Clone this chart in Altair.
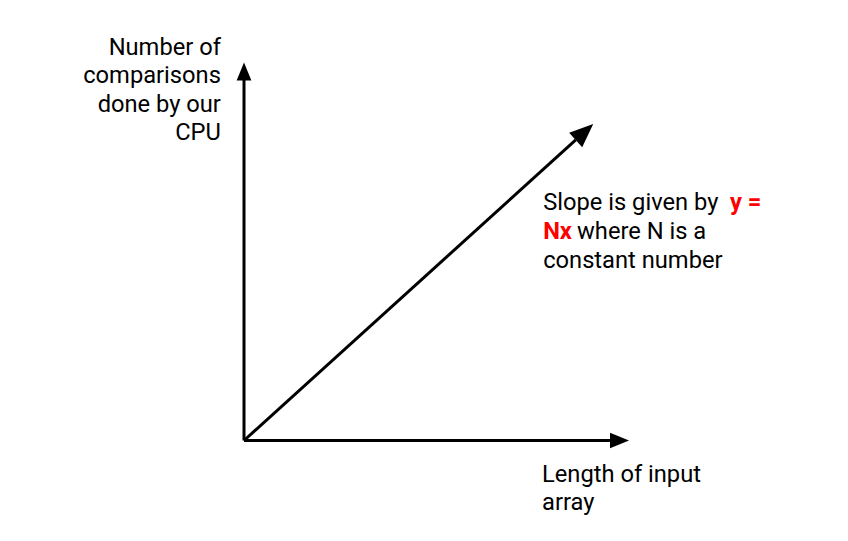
import altair as alt
import pandas as pd

# Diagram in abstract units: origin (0,0), both axes 10 units long
arrow_names = ["y-axis", "x-axis", "slope"]
tip_x = [0.0, 10.0, 9.07]
tip_y = [10.0, 0.0, 8.37]
head_angle = [0, 90, 47.8]
head_size = [324, 361, 560]

label_left_lines = ["Number of", "comparisons", "done by our", "CPU"]
label_left_y = [10.2, 9.45, 8.7, 7.95]
label_left_x = -0.6

label_bottom_lines = ["Length of input", "array"]
label_bottom_y = [-1.11, -1.85]
label_bottom_x = 7.74

note_text = ["Slope is given by", "y =", "Nx", "where N is a", "constant number"]
note_x = [7.77, 12.62, 7.77, 8.65, 7.77]
note_y = [6.09, 6.09, 5.33, 5.33, 4.57]
note_color = ["black", "red", "red", "black", "black"]
note_weight = ["normal", "bold", "bold", "normal", "normal"]

X_DOMAIN = [-6.13, 15.48]
Y_DOMAIN = [-2.447, 11.442]
FONT = "Roboto"
FS = 23.7

xs = alt.Scale(domain=X_DOMAIN, nice=False, zero=False)
ys = alt.Scale(domain=Y_DOMAIN, nice=False, zero=False)

shaft_frac = [0.975, 0.975, 0.95]
arrows = pd.DataFrame({
    "name": arrow_names,
    "x0": [0.0] * 3,
    "y0": [0.0] * 3,
    "tx": tip_x,
    "ty": tip_y,
    "sx": [t * f for t, f in zip(tip_x, shaft_frac)],
    "sy": [t * f for t, f in zip(tip_y, shaft_frac)],
    "angle": head_angle,
    "size": head_size,
})

shafts = alt.Chart(arrows).mark_rule(color="black", strokeWidth=3, strokeCap="butt").encode(
    x=alt.X("x0:Q", scale=xs, axis=None),
    y=alt.Y("y0:Q", scale=ys, axis=None),
    x2="sx:Q",
    y2="sy:Q",
)

heads = alt.Chart(arrows).mark_point(
    shape="M0,0L0.82,2L-0.82,2Z", filled=True, color="black", opacity=1, strokeWidth=0
).encode(
    x=alt.X("tx:Q", scale=xs, axis=None),
    y=alt.Y("ty:Q", scale=ys, axis=None),
    angle=alt.Angle("angle:Q", scale=None),
    size=alt.Size("size:Q", scale=None),
)

left_df = pd.DataFrame({"t": label_left_lines, "x": [label_left_x] * 4, "y": label_left_y})
left_lbl = alt.Chart(left_df).mark_text(
    align="right", baseline="alphabetic", font=FONT, fontSize=FS, color="black"
).encode(x=alt.X("x:Q", scale=xs, axis=None), y=alt.Y("y:Q", scale=ys, axis=None), text="t:N")

bot_df = pd.DataFrame({"t": label_bottom_lines, "x": [label_bottom_x] * 2, "y": label_bottom_y})
bot_lbl = alt.Chart(bot_df).mark_text(
    align="left", baseline="alphabetic", font=FONT, fontSize=FS, color="black"
).encode(x=alt.X("x:Q", scale=xs, axis=None), y=alt.Y("y:Q", scale=ys, axis=None), text="t:N")

note_df = pd.DataFrame({"t": note_text, "x": note_x, "y": note_y, "c": note_color, "w": note_weight})
note_plain = alt.Chart(note_df).transform_filter("datum.w == 'normal'").mark_text(
    align="left", baseline="alphabetic", font=FONT, fontSize=FS
).encode(
    x=alt.X("x:Q", scale=xs, axis=None), y=alt.Y("y:Q", scale=ys, axis=None), text="t:N",
    color=alt.Color("c:N", scale=None),
)
note_bold = alt.Chart(note_df).transform_filter("datum.w == 'bold'").mark_text(
    align="left", baseline="alphabetic", font=FONT, fontSize=FS, fontWeight="bold"
).encode(
    x=alt.X("x:Q", scale=xs, axis=None), y=alt.Y("y:Q", scale=ys, axis=None), text="t:N",
    color=alt.Color("c:N", scale=None),
)

chart = alt.layer(shafts, heads, left_lbl, bot_lbl, note_plain, note_bold).properties(
    width=832, height=525, autosize=alt.AutoSizeParams(type="none"), padding=0,
    background="white",
).configure_view(stroke=None)

chart.save("out.html", embed_options={"renderer": "svg", "actions": False})
